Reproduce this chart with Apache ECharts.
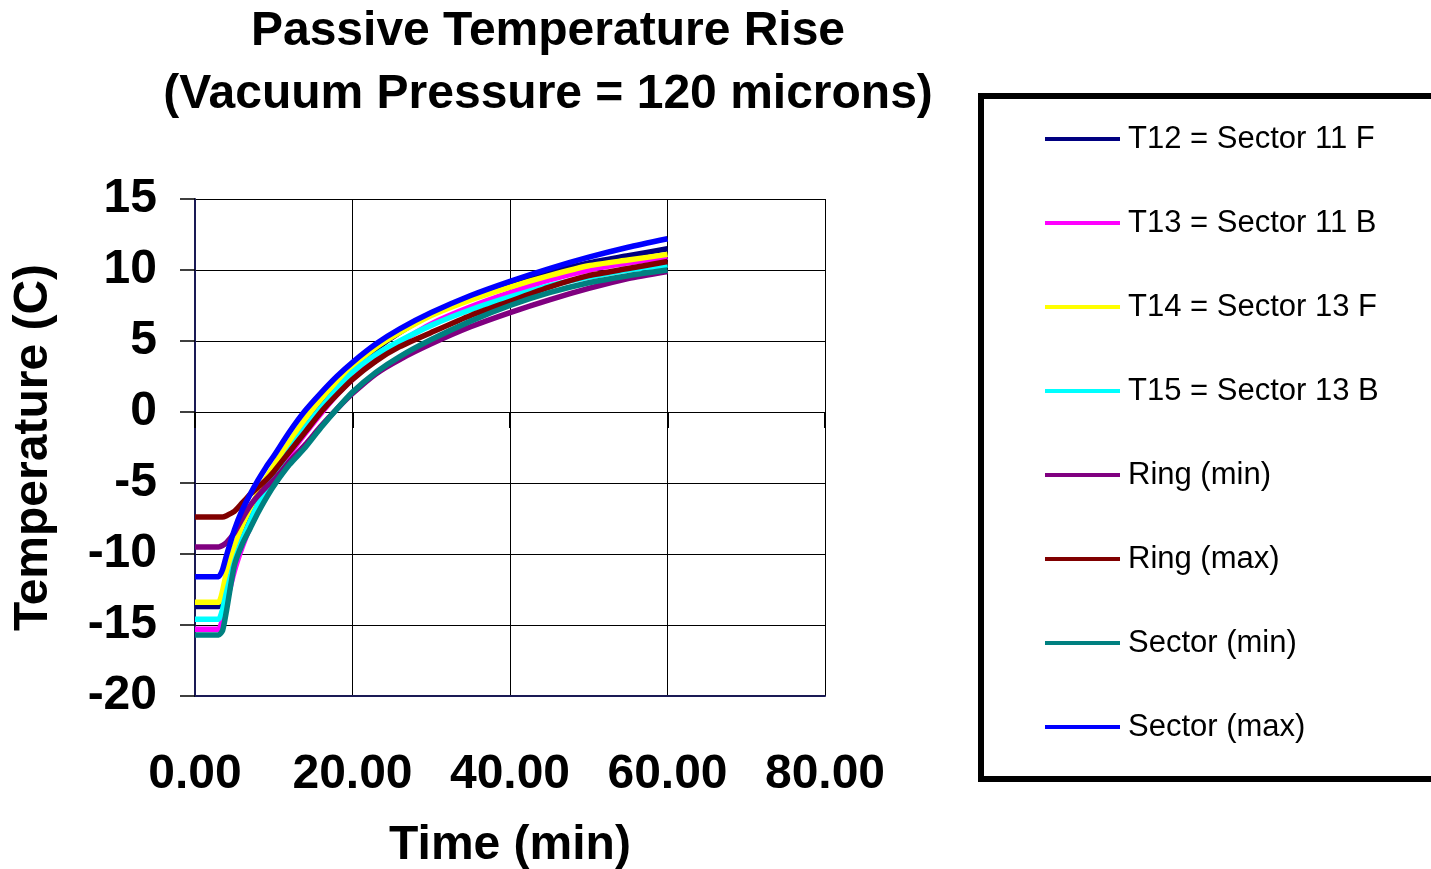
<!DOCTYPE html>
<html>
<head>
<meta charset="utf-8">
<title>Passive Temperature Rise</title>
<script src="https://cdn.jsdelivr.net/npm/echarts@6/dist/echarts.min.js"></script>
<style>
  html, body { margin: 0; padding: 0; background: #fff; }
  #chart { width: 1431px; height: 869px; }
</style>
</head>
<body>
<div id="chart"></div>
<script>
// time in minutes
var times = [0, 1, 2, 3, 3.5, 4, 5, 6, 7, 8, 9, 10, 12, 14, 16, 18, 20, 23, 26, 30, 35, 40, 45, 50, 55, 60];

// temperatures (C)
var t12 = [-13.7, -13.7, -13.7, -13.7, -13.0, -11.8, -9.8, -8.2, -6.9, -5.8, -4.8, -3.9, -2.2, -0.6, 0.8, 2.0, 3.1, 4.45, 5.6, 6.9, 8.0, 8.9, 9.8, 10.5, 11.0, 11.5];
var t13 = [-15.3, -15.3, -15.3, -15.3, -14.6, -13.4, -11.2, -9.5, -8.1, -6.9, -5.8, -4.8, -3.0, -1.5, -0.1, 1.2, 2.3, 3.8, 4.9, 6.2, 7.4, 8.4, 9.3, 10.0, 10.5, 10.9];
var t14 = [-13.4, -13.4, -13.4, -13.4, -12.6, -11.3, -9.5, -8.0, -6.8, -5.7, -4.7, -3.8, -2.1, -0.5, 0.9, 2.1, 3.2, 4.55, 5.6, 6.8, 7.9, 8.8, 9.6, 10.3, 10.7, 11.1];
var t15 = [-14.6, -14.6, -14.6, -14.6, -13.9, -12.7, -10.6, -9.0, -7.7, -6.5, -5.4, -4.5, -2.7, -1.1, 0.3, 1.6, 2.8, 4.05, 5.0, 6.1, 7.2, 8.1, 8.9, 9.5, 10.0, 10.35];
var ringMin = [-9.5, -9.5, -9.5, -9.5, -9.4, -9.2, -8.5, -7.5, -6.6, -5.9, -5.3, -4.8, -3.5, -2.3, -1.0, 0.2, 1.3, 2.7, 3.7, 4.8, 6.0, 7.0, 7.9, 8.7, 9.4, 9.9];
var ringMax = [-7.4, -7.4, -7.4, -7.4, -7.4, -7.3, -7.0, -6.4, -5.8, -5.3, -4.8, -4.2, -2.8, -1.4, 0.0, 1.2, 2.3, 3.6, 4.6, 5.6, 6.8, 7.8, 8.8, 9.6, 10.1, 10.6];
var sectorMin = [-15.7, -15.7, -15.7, -15.7, -15.4, -14.0, -10.8, -9.3, -8.2, -7.1, -6.1, -5.2, -3.7, -2.5, -1.1, 0.2, 1.4, 2.8, 3.9, 5.1, 6.4, 7.5, 8.4, 9.1, 9.6, 10.0];
var sectorMax = [-11.6, -11.6, -11.6, -11.6, -11.1, -10.1, -8.3, -6.9, -5.8, -4.8, -3.9, -3.1, -1.4, 0.1, 1.35, 2.5, 3.5, 4.8, 5.85, 7.0, 8.2, 9.2, 10.1, 10.9, 11.6, 12.2];

var seriesNames = ['T12 = Sector 11 F', 'T13 = Sector 11 B', 'T14 = Sector 13 F', 'T15 = Sector 13 B',
  'Ring (min)', 'Ring (max)', 'Sector (min)', 'Sector (max)'];
var seriesValues = [t12, t13, t14, t15, ringMin, ringMax, sectorMin, sectorMax];
var seriesColors = ['#000080', '#ff00ff', '#ffff00', '#00ffff', '#800080', '#800000', '#008080', '#0000ff'];

var font = '"Liberation Sans", Arial, sans-serif';

function pairs(vals) {
  return times.map(function (t, i) { return [t, vals[i]]; });
}

var chart = echarts.init(document.getElementById('chart'));

var series = seriesNames.map(function (name, i) {
  return {
    name: name,
    type: 'line',
    data: pairs(seriesValues[i]),
    showSymbol: false,
    smooth: 0.2,
    lineStyle: { width: 5.5, color: seriesColors[i] },
    itemStyle: { color: seriesColors[i] },
    z: 2 + i
  };
});

chart.setOption({
  animation: false,
  title: {
    text: 'Passive Temperature Rise\n(Vacuum Pressure = 120 microns)',
    left: 548,
    top: 0,
    padding: 0,
    textAlign: 'center',
    textStyle: { fontFamily: font, fontSize: 48, fontWeight: 'bold', color: '#000', lineHeight: 63 }
  },
  legend: {
    orient: 'vertical',
    left: 1045,
    top: 122,
    padding: 0,
    icon: 'rect',
    itemWidth: 75,
    itemHeight: 4,
    itemGap: 50,
    data: seriesNames,
    textStyle: { fontFamily: font, fontSize: 31, color: '#000', lineHeight: 34, padding: [0, 0, 0, 3] }
  },
  graphic: [{
    type: 'rect',
    shape: { x: 981, y: 96, width: 520, height: 683 },
    style: { fill: 'none', stroke: '#000', lineWidth: 6 },
    silent: true
  }],
  grid: { left: 195, top: 199, width: 630, height: 497, outerBoundsMode: 'none', containLabel: false },
  xAxis: [{
    type: 'value',
    min: 0,
    max: 80,
    interval: 20,
    name: 'Time (min)',
    nameLocation: 'middle',
    nameGap: 126,
    nameTextStyle: { fontFamily: font, fontSize: 48, fontWeight: 'bold', color: '#000' },
    axisLine: { onZero: false, lineStyle: { color: '#1a1a55', width: 2 } },
    axisTick: { show: false },
    axisLabel: {
      margin: 55,
      fontFamily: font, fontSize: 48, fontWeight: 'bold', color: '#000',
      formatter: function (v) { return v.toFixed(2); }
    },
    splitLine: { show: true, lineStyle: { color: '#000', width: 1 } }
  }, {
    type: 'value',
    min: 0,
    max: 80,
    interval: 20,
    position: 'bottom',
    axisLine: { onZero: true, lineStyle: { color: '#000', width: 1 } },
    axisTick: { show: true, length: 16, lineStyle: { color: '#000', width: 2 } },
    axisLabel: { show: false },
    splitLine: { show: false }
  }],
  yAxis: {
    type: 'value',
    min: -20,
    max: 15,
    interval: 5,
    name: 'Temperature (C)',
    nameLocation: 'middle',
    nameGap: 137,
    nameTextStyle: { fontFamily: font, fontSize: 48, fontWeight: 'bold', color: '#000' },
    axisLine: { show: true, lineStyle: { color: '#1a1a55', width: 2 } },
    axisTick: { show: true, length: 15, lineStyle: { color: '#000', width: 1.5 } },
    axisLabel: { margin: 38, padding: [12, 0, 0, 0], fontFamily: font, fontSize: 48, fontWeight: 'bold', color: '#000' },
    splitLine: { show: true, lineStyle: { color: '#000', width: 1 } }
  },
  series: series
});
</script>
</body>
</html>
